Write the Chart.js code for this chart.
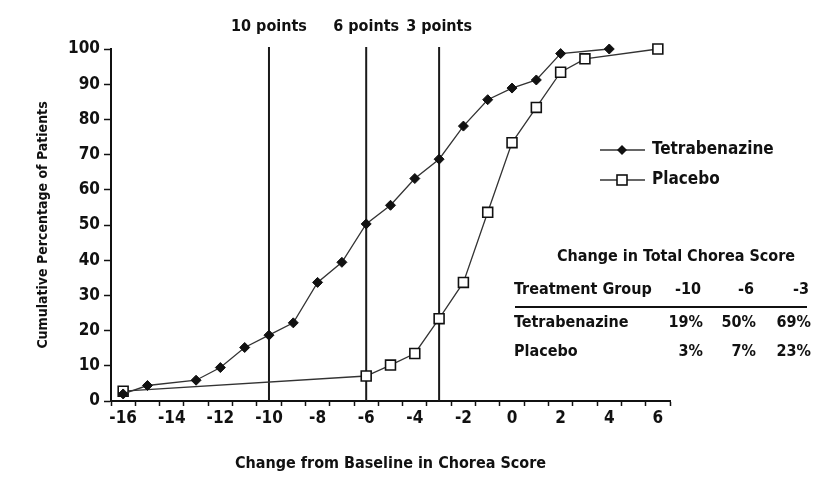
<!DOCTYPE html>
<html>
<head>
<meta charset="utf-8">
<script src="https://cdn.jsdelivr.net/npm/chart.js@4/dist/chart.umd.min.js"></script>
<style>
  html, body { margin: 0; padding: 0; background: #fff; }
</style>
</head>
<body>
<canvas id="chorea" width="838" height="483"></canvas>
<script>
// cumulative % of patients by change from baseline
const tetraX = [-16, -15, -13, -12, -11, -10, -9, -8, -7, -6, -5, -4, -3, -2, -1, 0, 1, 2, 4];
const tetraY = [2, 4.4, 5.9, 9.5, 15.2, 18.7, 22.2, 33.7, 39.4, 50.3, 55.6, 63.2, 68.7, 78.1, 85.6, 88.9, 91.2, 98.7, 100];
const placeboX = [-16, -6, -5, -4, -3, -2, -1, 0, 1, 2, 3, 6];
const placeboY = [2.8, 7.1, 10.2, 13.5, 23.4, 33.7, 53.6, 73.4, 83.4, 93.4, 97.2, 100];

const cutoffs = [-10, -6, -3];
const cutoffLabels = ['10 points', '6 points', '3 points'];

const tableTitle = 'Change in Total Chorea Score';
const tableCols = ['-10', '-6', '-3'];
const tableRows = ['Tetrabenazine', 'Placebo'];
const tableTetra = ['19%', '50%', '69%'];
const tablePlacebo = ['3%', '7%', '23%'];

const FONT = "'DejaVu Sans Condensed', 'Liberation Sans Narrow', sans-serif";
const INK = '#111';

function pts(xs, ys) {
  return xs.map((x, i) => ({ x: x, y: ys[i] }));
}

const cutoffSets = cutoffs.map(c => ({
  label: 'cut' + c,
  data: [{ x: c, y: 0 }, { x: c, y: 100.6 }],
  borderColor: '#1a1a1a',
  borderWidth: 2,
  pointRadius: 0,
  clip: false
}));

// draws a legend marker the same way the datasets look
function marker(ctx, kind, x, y) {
  ctx.save();
  if (kind === 'diamond') {
    ctx.fillStyle = INK;
    ctx.beginPath();
    ctx.moveTo(x, y - 5); ctx.lineTo(x + 5, y); ctx.lineTo(x, y + 5); ctx.lineTo(x - 5, y);
    ctx.closePath();
    ctx.fill();
  } else {
    ctx.fillStyle = '#fff';
    ctx.strokeStyle = INK;
    ctx.lineWidth = 1.6;
    ctx.fillRect(x - 5, y - 5, 10, 10);
    ctx.strokeRect(x - 5, y - 5, 10, 10);
  }
  ctx.restore();
}

const extras = {
  id: 'extras',
  afterDraw(chart) {
    const ctx = chart.ctx;
    const xs = chart.scales.x;
    ctx.save();
    ctx.fillStyle = INK;
    ctx.font = 'bold 16px ' + FONT;
    ctx.textBaseline = 'middle';

    // labels over the cutoff lines
    ctx.textAlign = 'center';
    cutoffs.forEach((c, i) => {
      ctx.fillText(cutoffLabels[i], xs.getPixelForValue(c), 27);
    });

    // legend
    const leg = [
      { text: chart.data.datasets[0].label, kind: 'diamond', y: 150 },
      { text: chart.data.datasets[1].label, kind: 'square', y: 180 }
    ];
    leg.forEach(l => {
      ctx.strokeStyle = '#333';
      ctx.lineWidth = 1.3;
      ctx.beginPath();
      ctx.moveTo(600, l.y); ctx.lineTo(645, l.y);
      ctx.stroke();
      marker(ctx, l.kind, 622, l.y);
      ctx.fillStyle = INK;
      ctx.textAlign = 'left';
      ctx.font = 'bold 17px ' + FONT;
      ctx.fillText(l.text, 652, l.y);
    });

    // summary table
    ctx.font = 'bold 16px ' + FONT;
    ctx.textAlign = 'center';
    ctx.fillText(tableTitle, 676, 257);
    ctx.textAlign = 'left';
    ctx.fillText('Treatment Group', 514, 290);
    ctx.fillText(tableRows[0], 514, 323);
    ctx.fillText(tableRows[1], 514, 352);
    const colRight = [703, 756, 811];
    ctx.textAlign = 'right';
    tableCols.forEach((t, i) => ctx.fillText(t, colRight[i] - 2, 290));
    tableTetra.forEach((t, i) => ctx.fillText(t, colRight[i], 323));
    tablePlacebo.forEach((t, i) => ctx.fillText(t, colRight[i], 352));
    ctx.strokeStyle = INK;
    ctx.lineWidth = 2;
    ctx.beginPath();
    ctx.moveTo(515, 307); ctx.lineTo(807, 307);
    ctx.stroke();
    ctx.restore();
  }
};

new Chart(document.getElementById('chorea'), {
  type: 'line',
  data: {
    datasets: [
      {
        label: 'Tetrabenazine',
        data: pts(tetraX, tetraY),
        borderColor: '#333',
        borderWidth: 1.3,
        pointStyle: 'rectRot',
        pointRadius: 5,
        pointBackgroundColor: INK,
        pointBorderColor: INK,
        pointBorderWidth: 1,
        clip: false
      },
      {
        label: 'Placebo',
        data: pts(placeboX, placeboY),
        borderColor: '#333',
        borderWidth: 1.3,
        pointStyle: 'rect',
        pointRadius: 7,
        pointBackgroundColor: '#fff',
        pointBorderColor: INK,
        pointBorderWidth: 1.6,
        clip: false
      }
    ].concat(cutoffSets)
  },
  options: {
    responsive: false,
    animation: false,
    events: [],
    layout: { padding: { top: 49, right: 168, left: 0, bottom: 0 } },
    plugins: {
      legend: { display: false },
      tooltip: { enabled: false }
    },
    scales: {
      x: {
        type: 'linear',
        min: -16.5,
        max: 6.5,
        afterFit: s => { s.height = 82; },
        border: { display: true, color: INK, width: 2 },
        grid: {
          drawOnChartArea: false,
          drawTicks: true,
          tickLength: 5,
          tickWidth: 1.5,
          // minor tick marks sit between the whole numbers
          tickColor: c => (c.tick && !Number.isInteger(c.tick.value)) ? INK : 'rgba(0,0,0,0)'
        },
        ticks: {
          stepSize: 0.5,
          autoSkip: false,
          maxRotation: 0,
          padding: 2,
          color: INK,
          font: { family: FONT, size: 17, weight: 'bold' },
          callback: v => (Number.isInteger(v) && Math.abs(v % 2) === 0) ? String(v) : ''
        },
        title: {
          display: true,
          text: 'Change from Baseline in Chorea Score',
          color: INK,
          font: { family: FONT, size: 16, weight: 'bold' },
          padding: { top: 0, bottom: 10 }
        }
      },
      y: {
        min: 0,
        max: 100,
        afterFit: s => { s.width = 111; },
        border: { display: true, color: INK, width: 2 },
        grid: { drawOnChartArea: false, tickLength: 7, tickWidth: 1.5, tickColor: INK },
        ticks: {
          stepSize: 10,
          padding: 4,
          color: INK,
          font: { family: FONT, size: 17, weight: 'bold' }
        },
        title: {
          display: true,
          text: 'Cumulative Percentage of Patients',
          color: INK,
          font: { family: FONT, size: 14, weight: 'bold' },
          padding: { top: 35, bottom: 0 }
        }
      }
    }
  },
  plugins: [extras]
});
</script>
</body>
</html>
